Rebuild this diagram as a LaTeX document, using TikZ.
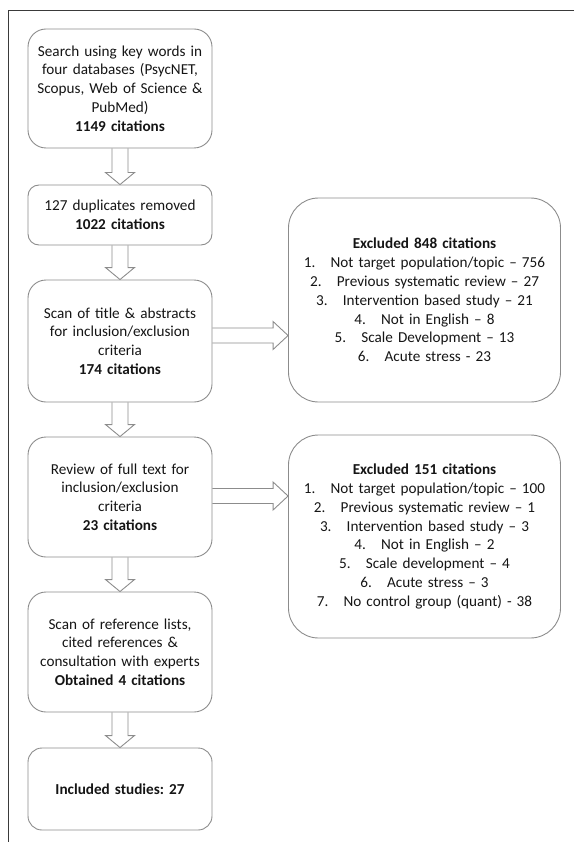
\documentclass[tikz,border=0pt]{standalone}
\usepackage{fontspec}
\setmainfont{Carlito}
\usetikzlibrary{calc}
\frenchspacing

\definecolor{boxgray}{HTML}{8C8C8C}
\definecolor{framegray}{HTML}{3A3A3A}
\definecolor{inkgray}{HTML}{151515}

\begin{document}
\begin{tikzpicture}[x=1pt, y=-1pt,
	stage/.style={draw=boxgray, line width=0.9pt, rectangle, rounded corners=#1,
		minimum width=184pt, text width=180pt, inner sep=0pt, align=center,
		text=inkgray, font=\fontsize{15.2}{18.8}\selectfont},
	stage/.default=18pt,
	excluded/.style={stage=30pt, minimum width=272pt, text width=268pt, minimum height=204pt},
	hollow/.style={draw=boxgray, line width=0.9pt, line join=miter},
	frame/.style={draw=framegray, line width=1.5pt}]

	\useasboundingbox (0,0) rectangle (574,842);
	\draw[frame] (574,10.5) -- (8.5,10.5) -- (8.5,842);

	% main column
	\node[stage, minimum height=119pt] (search) at (120,88.5)
		{Search using key words in\\four databases (PsycNET,\\Scopus, Web of Science \&\\PubMed)\\\textbf{1149 citations}};
	\node[stage=11pt, minimum height=60pt] (dupl) at (120,215)
		{127 duplicates removed\\\textbf{1022 citations}};
	\node[stage, minimum height=122pt] (screen) at (120,341)
		{Scan of title \& abstracts\\for inclusion/exclusion\\criteria\\\textbf{174 citations}};
	\node[stage, minimum height=120pt] (fulltext) at (120,497)
		{Review of full text for\\inclusion/exclusion\\criteria\\\textbf{23 citations}};
	\node[stage, minimum height=120pt] (handsearch) at (120,652)
		{Scan of reference lists,\\cited references \&\\consultation with experts\\\textbf{Obtained 4 citations}};
	\node[stage=14pt, minimum height=82pt] (included) at (120,789)
		{\textbf{Included studies: 27}};

	% exclusions
	\node[excluded] (excl1) at (424.5,300)
		{\textbf{Excluded 848 citations}\\
		1.\quad Not target population/topic -- 756\\
		2.\quad Previous systematic review -- 27\\
		3.\quad Intervention based study -- 21\\
		4.\quad Not in English -- 8\\
		5.\quad Scale Development -- 13\\
		6.\quad Acute stress - 23};
	\node[excluded, minimum height=203pt] (excl2) at (424.5,536.5)
		{\textbf{Excluded 151 citations}\\
		1.\quad Not target population/topic -- 100\\
		2.\quad Previous systematic review -- 1\\
		3.\quad Intervention based study -- 3\\
		4.\quad Not in English -- 2\\
		5.\quad Scale development -- 4\\
		6.\quad Acute stress -- 3\\
		7.\quad No control group (quant) - 38\\[14pt]};

	% block arrows down
	\foreach \a/\b in {search/dupl, dupl/screen, screen/fulltext, fulltext/handsearch, handsearch/included}
		\draw[hollow] ($(\a.south)+(-8,0)$) -- ($(\b.north)+(-8,-12)$) -- ++(-6.5,0) -- (\b.north)
			-- ++(14.5,-12) -- ++(-6.5,0) -- ($(\a.south)+(8,0)$);

	% block arrows right
	\foreach \a/\b/\dy in {screen/excl1/-5.5, fulltext/excl2/-1}{
		\coordinate (from) at ($(\a.east)+(0,\dy)$);
		\coordinate (to) at (\b.west |- from);
		\draw[hollow] ($(from)+(0,-7.5)$) -- ($(to)+(-15,-7.5)$) -- ++(0,-6.5) -- (to)
			-- ++(-15,14) -- ++(0,-6.5) -- ($(from)+(0,7.5)$);
	}
\end{tikzpicture}
\end{document}
